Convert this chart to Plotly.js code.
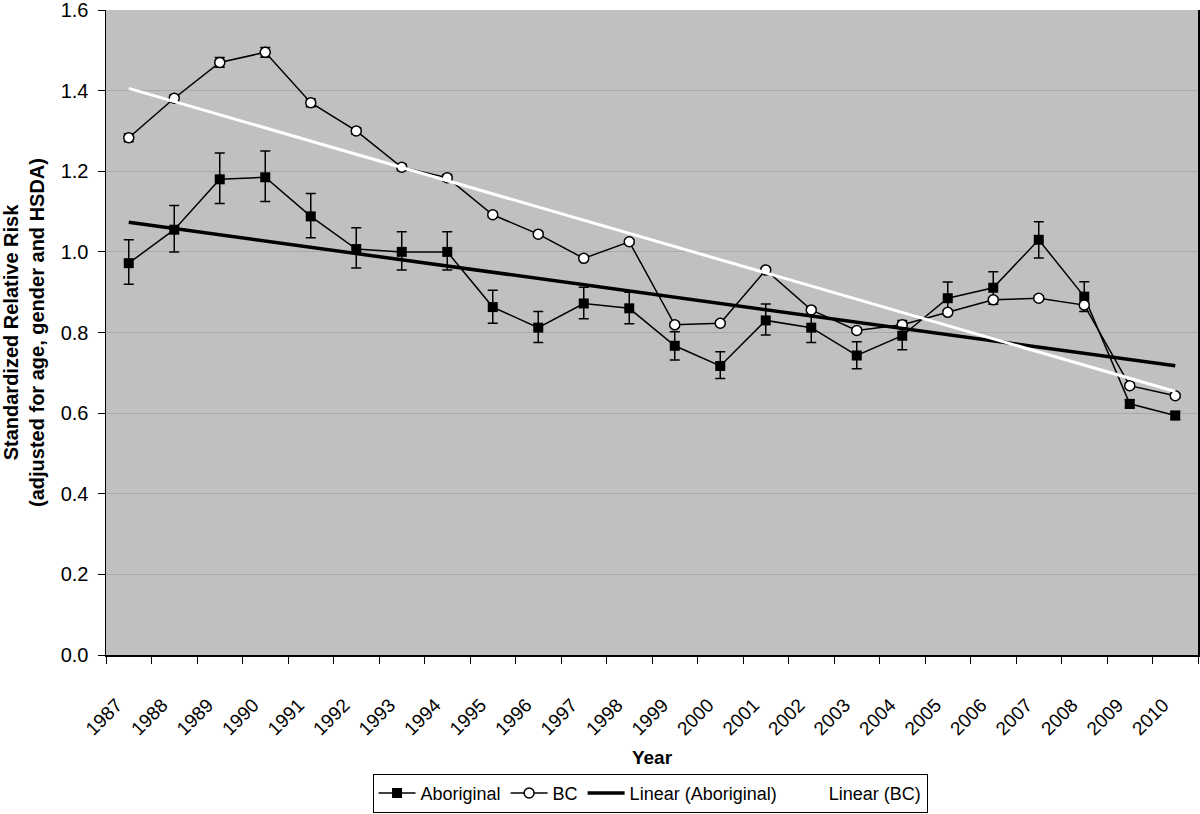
<!DOCTYPE html>
<html>
<head>
<meta charset="utf-8">
<script src="https://cdn.plot.ly/plotly-3.0.1.min.js"></script>
<style>html,body{margin:0;padding:0;background:#fff;}#chart{width:1200px;height:814px;}</style>
</head>
<body>
<div id="chart"></div>
<script>
const years = ["1987","1988","1989","1990","1991","1992","1993","1994","1995","1996","1997","1998","1999","2000","2001","2002","2003","2004","2005","2006","2007","2008","2009","2010"];
const aboriginal = [0.972,1.055,1.180,1.185,1.088,1.007,1.000,1.000,0.863,0.812,0.872,0.860,0.767,0.717,0.830,0.812,0.743,0.792,0.885,0.911,1.030,0.889,0.623,0.594];
const aborHigh = [1.030,1.115,1.245,1.250,1.145,1.060,1.050,1.050,0.905,0.852,0.912,0.900,0.802,0.752,0.871,0.850,0.777,0.830,0.925,0.951,1.075,0.926,0.633,0.604];
const aborLow  = [0.920,1.000,1.120,1.125,1.035,0.960,0.955,0.955,0.823,0.775,0.834,0.822,0.732,0.686,0.794,0.775,0.710,0.757,0.845,0.870,0.985,0.852,0.613,0.584];
const bc = [1.283,1.381,1.470,1.495,1.370,1.300,1.210,1.184,1.092,1.044,0.984,1.025,0.819,0.823,0.955,0.856,0.805,0.819,0.850,0.881,0.885,0.868,0.668,0.643];
const bcErr = [0.010,0.008,0.012,0.012,0.010,0.008,0.008,0.008,0.006,0.006,0.006,0.006,0.006,0.006,0.006,0.006,0.006,0.006,0.006,0.006,0.006,0.006,0.006,0.006];

function linFit(ys){
  const n = ys.length; let sx=0,sy=0,sxx=0,sxy=0;
  for(let i=0;i<n;i++){const x=i+1; sx+=x; sy+=ys[i]; sxx+=x*x; sxy+=x*ys[i];}
  const b=(n*sxy-sx*sy)/(n*sxx-sx*sx); const a=(sy-b*sx)/n;
  return ys.map((_,i)=>a+b*(i+1));
}

const font = "Liberation Sans, Arial, sans-serif";
const traces = [
  {x: years, y: aboriginal, name: "Aboriginal", type: "scatter", mode: "lines+markers",
   line: {color: "#000", width: 1.5},
   marker: {symbol: "square", size: 10, color: "#000"},
   error_y: {type: "data", symmetric: false,
     array: aborHigh.map((v,i)=>v-aboriginal[i]),
     arrayminus: aboriginal.map((v,i)=>v-aborLow[i]),
     color: "#000", thickness: 1.5, width: 5}},
  {x: years, y: bc, name: "BC", type: "scatter", mode: "lines+markers",
   line: {color: "#000", width: 1.5},
   marker: {symbol: "circle", size: 10, color: "#fff", line: {color: "#000", width: 1.5}},
   error_y: {type: "data", array: bcErr, color: "#000", thickness: 1.5, width: 5}},
  {x: years, y: linFit(aboriginal), name: "Linear (Aboriginal)", type: "scatter", mode: "lines",
   line: {color: "#000", width: 3.5}},
  {x: years, y: linFit(bc), name: "Linear (BC)", type: "scatter", mode: "lines",
   line: {color: "#fff", width: 3}}
];

const layout = {
  width: 1200, height: 814,
  margin: {l: 106, r: 2, t: 10, b: 159},
  paper_bgcolor: "#fff", plot_bgcolor: "#c0c0c0",
  font: {family: font, size: 19, color: "#000"},
  showlegend: true,
  legend: {orientation: "h", x: 0.5417, xref: "container", xanchor: "center", y: 0.0015, yref: "container", yanchor: "bottom",
    bordercolor: "#000", borderwidth: 1, bgcolor: "#fff", itemwidth: 37,
    font: {family: font, size: 18, color: "#000"}, traceorder: "normal", valign: "middle"},
  xaxis: {type: "category", tickson: "boundaries", ticks: "outside", ticklen: 7, tickcolor: "#000",
    tickangle: -45, showline: true, linecolor: "#000", linewidth: 1.5, showgrid: false,
    ticklabelstandoff: 30, ticklabelshift: -12, automargin: false, ticklabeloverflow: "allow",
    tickfont: {family: font, size: 19},
    title: {text: "<b>Year</b>", font: {family: font, size: 19}, standoff: 12},
    range: [-0.5, 23.5], fixedrange: true},
  yaxis: {range: [0, 1.6], dtick: 0.2, tickformat: ".1f", ticks: "outside", ticklen: 7, tickcolor: "#000",
    showline: true, mirror: true, linecolor: "#000", linewidth: 1.5, showgrid: true, gridcolor: "#a9a9a9", gridwidth: 1,
    zeroline: false, tickfont: {family: font, size: 20}, ticklabelstandoff: 5, automargin: false, ticklabeloverflow: "allow",
    title: {text: "<b>Standardized Relative Risk<br>(adjusted for age, gender and HSDA)</b>", font: {family: font, size: 20}, standoff: 14}}
};
Plotly.newPlot("chart", traces, layout, {displayModeBar: false, staticPlot: true});
</script>
</body>
</html>
